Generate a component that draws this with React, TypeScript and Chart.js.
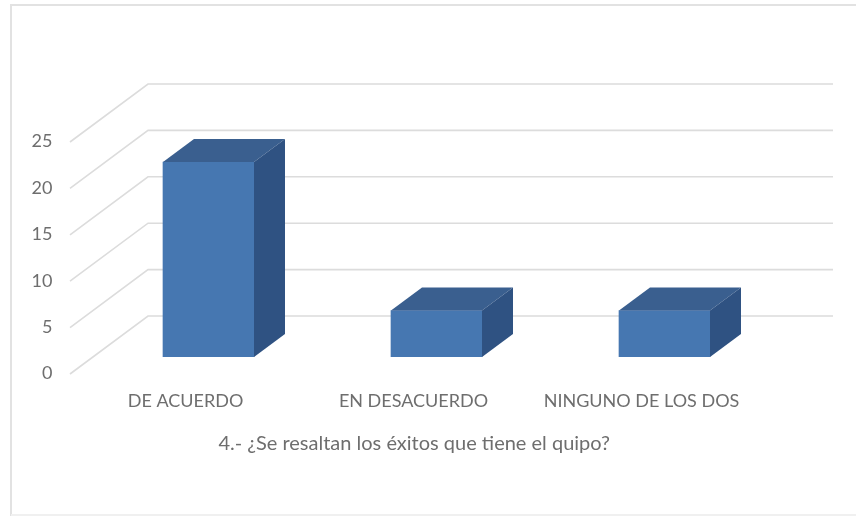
import React, { useEffect, useRef } from "react";
import { Chart, registerables } from "chart.js";

Chart.register(...registerables);

const categories = ["DE ACUERDO", "EN DESACUERDO", "NINGUNO DE LOS DOS"];
const values = [21, 5, 5];
const yTicks = [0, 5, 10, 15, 20, 25];
const titleText = "4.- ¿Se resaltan los éxitos que tiene el quipo?";

const FRONT = "#4677b1";
const TOP = "#3a5f8f";
const SIDE = "#2f5282";
const GRID = "#dcdcdc";
const TEXT = "#6e6e6e";
const FONT = "Lato, 'Open Sans', sans-serif";

const depthPlugin = {
  id: "depth3d",
  beforeDraw(chart: any) {
    const { ctx } = chart;
    ctx.save();
    ctx.strokeStyle = "#e2e2e2";
    ctx.lineWidth = 2;
    ctx.beginPath();
    ctx.moveTo(856, 5);
    ctx.lineTo(11, 5);
    ctx.lineTo(11, 516);
    ctx.stroke();
    ctx.strokeStyle = "#f0f0f0";
    ctx.beginPath();
    ctx.moveTo(11, 515);
    ctx.lineTo(856, 515);
    ctx.stroke();
    ctx.restore();
  },
  afterLayout(chart: any) {
    const t = chart.titleBlock;
    if (t) {
      t.left += 25;
      t.right += 25;
    }
  },
  beforeDatasetsDraw(chart: any) {
    const { ctx, scales } = chart;
    ctx.save();
    ctx.strokeStyle = GRID;
    ctx.lineWidth = 1.6;
    yTicks.forEach((v) => {
      const y = scales.y.getPixelForValue(v);
      ctx.beginPath();
      ctx.moveTo(70, y + 17);
      ctx.lineTo(148, y - 41);
      ctx.lineTo(833, y - 41);
      ctx.stroke();
    });
    ctx.restore();
  },
  afterDatasetsDraw(chart: any) {
    const { ctx } = chart;
    const dx = 31;
    const dy = -23;
    ctx.save();
    chart.getDatasetMeta(0).data.forEach((bar: any) => {
      const l = bar.x - bar.width / 2;
      const r = bar.x + bar.width / 2;
      const t = bar.y;
      const b = bar.base;
      ctx.fillStyle = TOP;
      ctx.beginPath();
      ctx.moveTo(l, t);
      ctx.lineTo(l + dx, t + dy);
      ctx.lineTo(r + dx, t + dy);
      ctx.lineTo(r, t);
      ctx.closePath();
      ctx.fill();
      ctx.fillStyle = SIDE;
      ctx.beginPath();
      ctx.moveTo(r, t);
      ctx.lineTo(r + dx, t + dy);
      ctx.lineTo(r + dx, b + dy);
      ctx.lineTo(r, b);
      ctx.closePath();
      ctx.fill();
    });
    ctx.restore();
  },
};

export default function App() {
  const ref = useRef<HTMLCanvasElement>(null);
  useEffect(() => {
    const chart = new Chart(ref.current!, {
      type: "bar",
      data: {
        labels: categories,
        datasets: [{ data: values, backgroundColor: FRONT, barThickness: 91 }],
      },
      options: {
        animation: false,
        responsive: false,
        devicePixelRatio: 1,
        layout: { padding: { top: 125, right: 77.5, left: 0, bottom: 0 } },
        plugins: {
          legend: { display: false },
          tooltip: { enabled: false },
          title: {
            display: true,
            text: titleText,
            position: "bottom",
            color: TEXT,
            font: { family: FONT, size: 20, weight: "normal", lineHeight: 1.2 },
            padding: { top: 0, bottom: 60 },
          },
        },
        scales: {
          x: {
            grid: { display: false, drawTicks: false },
            border: { display: false },
            ticks: {
              color: TEXT,
              font: { family: FONT, size: 18 },
              labelOffset: -23,
              padding: 33,
              maxRotation: 0,
              autoSkip: false,
            },
            afterFit(scale: any) {
              scale.height = 75;
            },
          },
          y: {
            min: 0,
            max: 25,
            grid: { display: false, drawTicks: false },
            border: { display: false },
            ticks: {
              stepSize: 5,
              color: TEXT,
              font: { family: FONT, size: 18 },
              labelOffset: 16.5,
              padding: 42,
            },
            afterFit(scale: any) {
              scale.width = 94.5;
            },
          },
        },
      },
      plugins: [depthPlugin],
    } as any);
    return () => chart.destroy();
  }, []);
  return (
    <div style={{ position: "fixed", left: 0, top: 0, width: 856, height: 516, background: "#fff" }}>
      <canvas ref={ref} width={856} height={516} style={{ display: "block", filter: "blur(0.6px)" }} />
    </div>
  );
}
